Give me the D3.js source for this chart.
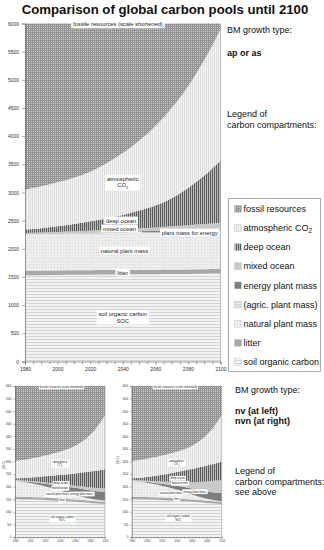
<!DOCTYPE html>
<html>
<head>
<meta charset="utf-8">
<script src="https://cdn.jsdelivr.net/npm/d3@7"></script>
<style>
  body { margin: 0; background: #fff; }
  svg { display: block; font-family: "Liberation Sans", Arial, sans-serif; }
</style>
</head>
<body>
<svg id="canvas" width="324" height="550"></svg>
<script>
// years and tick labels
const years = [1980, 1990, 2000, 2010, 2020, 2030, 2040, 2050, 2060, 2070, 2080, 2090, 2100];
const xTickLabels = [1980, 2000, 2020, 2040, 2060, 2080, 2100];
const xMinorTicks = [1980, 1985, 1990, 1995, 2000, 2005, 2010, 2015, 2020, 2025, 2030, 2035, 2040, 2045, 2050, 2055, 2060, 2065, 2070, 2075, 2080, 2085, 2090, 2095, 2100];
const yTickValues = [0, 500, 1000, 1500, 2000, 2500, 3000, 3500, 4000, 4500, 5000, 5500, 6000];

// stacking order, bottom to top
const compartments = ["soil", "litter", "natural", "agric", "energy", "mixed", "deep", "atmos", "fossil"];
// legend order, top to bottom
const legendKeys = ["fossil", "atmos", "deep", "mixed", "energy", "agric", "natural", "litter", "soil"];
const legendNames = ["fossil resources", "atmospheric CO2", "deep ocean", "mixed ocean", "energy plant mass", "(agric. plant mass)", "natural plant mass", "litter", "soil organic carbon"];

// BM growth type "ap or as" (Gt C, thickness of each stacked pool)
const apSoil    = [1530, 1533, 1535, 1538, 1540, 1543, 1545, 1548, 1550, 1553, 1555, 1558, 1560];
const apLitter  = [80, 80, 80, 80, 80, 80, 80, 80, 80, 80, 80, 80, 80];
const apNatural = [640, 644, 648, 652, 657, 660, 665, 669, 673, 677, 682, 685, 690];
const apAgric   = [0, 0, 0, 0, 0, 0, 0, 0, 0, 0, 0, 0, 0];
const apEnergy  = [0, 0, 0, 2, 4, 6, 8, 11, 14, 17, 20, 22, 25];
const apMixed   = [30, 32, 35, 38, 42, 46, 50, 56, 63, 72, 82, 95, 110];
const apDeep    = [65, 76, 102, 130, 167, 205, 252, 316, 390, 501, 661, 860, 1105];
const apAtmos   = [710, 745, 780, 820, 880, 980, 1100, 1240, 1410, 1600, 1800, 2050, 2330];
const apFossil  = [2945, 2890, 2820, 2740, 2630, 2480, 2300, 2080, 1820, 1500, 1120, 650, 100];

// BM growth type "nv"
const nvSoil    = [1500, 1495, 1490, 1480, 1470, 1455, 1440, 1420, 1400, 1380, 1355, 1335, 1310];
const nvLitter  = [100, 99, 98, 97, 96, 95, 94, 93, 92, 91, 90, 89, 90];
const nvNatural = [640, 606, 562, 513, 454, 390, 316, 247, 178, 119, 85, 56, 50];
const nvAgric   = [0, 0, 0, 0, 0, 0, 0, 0, 0, 0, 0, 0, 0];
const nvEnergy  = [0, 15, 40, 70, 100, 140, 190, 240, 290, 320, 330, 340, 350];
const nvMixed   = [30, 35, 40, 45, 50, 55, 60, 70, 80, 95, 110, 130, 150];
const nvDeep    = [60, 95, 135, 180, 240, 300, 360, 420, 480, 555, 630, 690, 740];
const nvAtmos   = [690, 715, 745, 785, 830, 875, 930, 1000, 1100, 1240, 1450, 1760, 2160];
const nvFossil  = [2980, 2940, 2890, 2830, 2760, 2690, 2610, 2510, 2380, 2200, 1950, 1600, 1150];

// BM growth type "nvn"
const nvnSoil    = [1500, 1495, 1490, 1480, 1470, 1455, 1440, 1420, 1400, 1380, 1355, 1335, 1310];
const nvnLitter  = [100, 99, 98, 97, 96, 95, 94, 93, 92, 91, 90, 89, 90];
const nvnNatural = [640, 611, 572, 528, 474, 420, 356, 287, 208, 129, 75, 36, 20];
const nvnAgric   = [0, 0, 0, 0, 0, 0, 0, 0, 0, 0, 0, 0, 0];
const nvnEnergy  = [0, 13, 30, 55, 80, 110, 150, 190, 230, 270, 290, 310, 330];
const nvnMixed   = [30, 37, 50, 65, 90, 115, 145, 190, 250, 320, 400, 465, 515];
const nvnDeep    = [60, 95, 140, 195, 260, 325, 395, 460, 520, 580, 630, 675, 725];
const nvnAtmos   = [690, 710, 730, 750, 770, 790, 810, 850, 920, 1030, 1210, 1490, 1860];
const nvnFossil  = [2980, 2940, 2890, 2830, 2760, 2690, 2610, 2510, 2380, 2200, 1950, 1600, 1150];

const svg = d3.select("#canvas");
const defs = svg.append("defs");

// fill patterns for the pools
const addPattern = (id, w, h, bg, marks) => {
    const p = defs.append("pattern")
        .attr("id", id)
        .attr("patternUnits", "userSpaceOnUse")
        .attr("width", w)
        .attr("height", h);
    p.append("rect").attr("width", w).attr("height", h).attr("fill", bg);
    marks.forEach((m) => p.append("rect")
        .attr("x", m[0]).attr("y", m[1]).attr("width", m[2]).attr("height", m[3]).attr("fill", m[4]));
};
addPattern("pat-fossil", 2, 2, "#cecece", [[0, 0, 2, 1, "#929292"], [0, 0, 1, 2, "#929292"]]);
addPattern("pat-atmos", 2, 2, "#f3f3f3", [[0, 0, 1, 2, "#dedede"]]);
addPattern("pat-deep", 2, 2, "#bdbdbd", [[0, 0, 1, 2, "#5a5a5a"]]);
addPattern("pat-mixed", 2, 2, "#c9c9c9", []);
addPattern("pat-energy", 2, 2, "#7e7e7e", []);
addPattern("pat-agric", 2, 2, "#eeeeee", [[0, 0, 2, 1, "#d0d0d0"]]);
addPattern("pat-natural", 3, 3, "#ededed", [[0, 0, 1, 1, "#d6d6d6"]]);
addPattern("pat-litter", 2, 2, "#a8a8a8", []);
addPattern("pat-soil", 3, 3, "#f3f3f3", [[0, 0, 3, 1, "#d3d3d3"]]);

// text with "CO2" getting a subscript 2
const writeLine = (textSel, line, size) => {
    if (line.endsWith("CO2")) {
        textSel.append("tspan").text(line.slice(0, -1));
        textSel.append("tspan").attr("font-size", size * 0.7).attr("dy", size * 0.25).text("2");
    } else {
        textSel.text(line);
    }
};

const drawChart = (cfg) => {
    const rows = years.map((yr, i) => {
        const r = { year: yr };
        compartments.forEach((k, j) => r[k] = cfg.layers[j][i]);
        return r;
    });

    const x = d3.scaleLinear().domain([1980, 2100]).range([cfg.left, cfg.right]);
    const y = d3.scaleLinear().domain([0, 6000]).range([cfg.bottom, cfg.top]);

    const series = d3.stack().keys(compartments)(rows);
    const area = d3.area()
        .x((d) => x(d.data.year))
        .y0((d) => y(d[0]))
        .y1((d) => y(d[1]))
        .curve(d3.curveMonotoneX);

    const g = svg.append("g");
    g.selectAll("path.layer")
        .data(series)
        .enter()
        .append("path")
        .attr("class", "layer")
        .attr("d", area)
        .attr("fill", (d) => "url(#pat-" + d.key + ")");

    // right edge of the plot
    g.append("line")
        .attr("x1", cfg.right).attr("x2", cfg.right)
        .attr("y1", cfg.top).attr("y2", cfg.bottom)
        .attr("stroke", "#9a9a9a").attr("stroke-width", 0.6);

    // leader lines
    (cfg.leaders || []).forEach((l) => {
        g.append("line")
            .attr("x1", x(l[0])).attr("y1", y(l[1]))
            .attr("x2", x(l[2])).attr("y2", y(l[3]))
            .attr("stroke", "#444").attr("stroke-width", 0.6);
    });

    // labels on white boxes, box sized from the text
    cfg.labels.forEach((lab) => {
        const cx = x(lab.year);
        const cy = y(lab.value);
        const lh = cfg.font * 1.15;
        const lg = g.append("g");
        const box = lg.append("rect").attr("fill", "#fff");
        const tg = lg.append("g");
        lab.lines.forEach((line, i) => {
            const t = tg.append("text")
                .attr("x", cx)
                .attr("y", cy + (i - (lab.lines.length - 1) / 2) * lh + cfg.font * 0.35)
                .attr("text-anchor", lab.anchor || "middle")
                .attr("font-size", cfg.font)
                .attr("fill", "#222");
            writeLine(t, line, cfg.font);
        });
        const bb = tg.node().getBBox();
        box.attr("x", bb.x - cfg.padX)
            .attr("y", bb.y - cfg.padY)
            .attr("width", bb.width + 2 * cfg.padX)
            .attr("height", bb.height + 2 * cfg.padY);
    });

    // axes
    const yAxis = d3.axisLeft(y)
        .tickValues(yTickValues)
        .tickSize(cfg.tick)
        .tickPadding(cfg.pad)
        .tickFormat(d3.format("d"));
    const gy = g.append("g").attr("transform", "translate(" + cfg.left + ",0)").call(yAxis);

    const xAxis = d3.axisBottom(x)
        .tickValues(xMinorTicks)
        .tickSize(cfg.tick)
        .tickPadding(cfg.pad)
        .tickFormat((d) => xTickLabels.includes(d) ? d : "");
    const gx = g.append("g").attr("transform", "translate(0," + cfg.bottom + ")").call(xAxis);

    [gx, gy].forEach((a) => {
        a.selectAll("path").attr("stroke", "#555").attr("stroke-width", 0.6);
        a.selectAll("line").attr("stroke", "#555").attr("stroke-width", 0.5);
        a.selectAll("text").attr("font-size", cfg.axisFont).attr("fill", "#333")
            .attr("font-family", "'Liberation Sans', Arial, sans-serif");
    });

    if (cfg.yTitle) {
        g.append("text")
            .attr("transform", "translate(" + cfg.yTitle[0] + "," + cfg.yTitle[1] + ") rotate(-90)")
            .attr("text-anchor", "middle")
            .attr("font-size", cfg.axisFont)
            .attr("fill", "#333")
            .text("[Gt C]");
    }
};

// title
svg.append("text")
    .attr("x", 165).attr("y", 14)
    .attr("text-anchor", "middle")
    .attr("font-family", "'Liberation Sans', Arial, sans-serif")
    .attr("font-weight", "bold")
    .attr("font-size", 13.2)
    .attr("fill", "#111")
    .text("Comparison of global carbon pools until 2100");

// main chart (ap or as)
drawChart({
    layers: [apSoil, apLitter, apNatural, apAgric, apEnergy, apMixed, apDeep, apAtmos, apFossil],
    left: 25, right: 220.5, top: 23.5, bottom: 361.5,
    tick: 3, pad: 3, axisFont: 5, font: 5.8, padX: 1.8, padY: 0.9,
    leaders: [[2052, 2300, 2064, 2300]],
    labels: [
        { year: 2037, value: 5985, lines: ["fossile resources (scale shortened)"] },
        { year: 2040, value: 3187, lines: ["atmospheric", "CO2"] },
        { year: 2039, value: 2503, lines: ["deep ocean"] },
        { year: 2038, value: 2361, lines: ["mixed ocean"] },
        { year: 2064, value: 2290, lines: ["plant mass for energy"], anchor: "start" },
        { year: 2041, value: 1970, lines: ["natural plant mass"] },
        { year: 2040, value: 1580, lines: ["litter"] },
        { year: 2040, value: 785, lines: ["soil organic carbon", "SOC"] }
    ]
});

// small chart nv
drawChart({
    layers: [nvSoil, nvLitter, nvNatural, nvAgric, nvEnergy, nvMixed, nvDeep, nvAtmos, nvFossil],
    left: 15, right: 105, top: 386, bottom: 537,
    tick: 1.5, pad: 2, axisFont: 2.6, font: 2.8, padX: 0.9, padY: 0.4,
    yTitle: [5, 465],
    labels: [
        { year: 2042, value: 5960, lines: ["fossile resources (scale shortened)"] },
        { year: 2040, value: 2910, lines: ["atmospheric", "CO2"] },
        { year: 2041, value: 2126, lines: ["deep ocean"] },
        { year: 2040, value: 1927, lines: ["mixed ocean"] },
        { year: 2037, value: 1689, lines: ["natural plant mass"] },
        { year: 2069, value: 1709, lines: ["energy plant mass"] },
        { year: 2043, value: 1450, lines: ["litter"] },
        { year: 2043, value: 735, lines: ["soil organic carbon", "SOC"] }
    ]
});

// small chart nvn
drawChart({
    layers: [nvnSoil, nvnLitter, nvnNatural, nvnAgric, nvnEnergy, nvnMixed, nvnDeep, nvnAtmos, nvnFossil],
    left: 131.7, right: 221.7, top: 386, bottom: 537,
    tick: 1.5, pad: 2, axisFont: 2.6, font: 2.8, padX: 0.9, padY: 0.4,
    yTitle: [119, 460],
    labels: [
        { year: 2038, value: 5960, lines: ["fossile resources (scale shortened)"] },
        { year: 2040, value: 2950, lines: ["atmospheric", "CO2"] },
        { year: 2041, value: 2331, lines: ["deep ocean"] },
        { year: 2044, value: 2133, lines: ["mixed ocean"] },
        { year: 2033, value: 1736, lines: ["natural plant mass"] },
        { year: 2064, value: 1800, lines: ["energy plant mass"] },
        { year: 2040, value: 1510, lines: ["litter"] },
        { year: 2042, value: 750, lines: ["soil organic carbon", "SOC"] }
    ]
});

// right-hand texts
const addText = (x, y, txt, size, bold) => svg.append("text")
    .attr("x", x).attr("y", y)
    .attr("font-size", size)
    .attr("font-weight", bold ? "bold" : "normal")
    .attr("fill", "#111")
    .text(txt);

addText(227, 33, "BM growth type:", 9, false);
addText(227, 56, "ap or as", 9, true);
addText(227, 117, "Legend of", 9, false);
addText(227, 127.5, "carbon compartments:", 9, false);

addText(235, 393, "BM growth type:", 9, false);
addText(235, 414, "nv (at left)", 9, true);
addText(235, 424, "nvn (at right)", 9, true);
addText(235, 474, "Legend of", 9, false);
addText(235, 484.5, "carbon compartments:", 9, false);
addText(235, 494.5, "see above", 9, false);

// legend
const legend = svg.append("g");
legend.append("rect")
    .attr("x", 228.5).attr("y", 198.5)
    .attr("width", 92).attr("height", 173)
    .attr("fill", "#fff").attr("stroke", "#999").attr("stroke-width", 0.8);

const legendRowY = d3.scaleLinear().domain([0, legendKeys.length - 1]).range([208.8, 362]);
legend.selectAll("rect.legend-item")
    .data(legendKeys)
    .enter()
    .append("rect")
    .attr("class", "legend-item")
    .attr("x", 234.5)
    .attr("y", (d, i) => legendRowY(i) - 3.5)
    .attr("width", 7)
    .attr("height", 7)
    .attr("fill", (d) => "url(#pat-" + d + ")")
    .attr("stroke", "#c8c8c8")
    .attr("stroke-width", 0.5);

legendNames.forEach((name, i) => {
    const t = legend.append("text")
        .attr("x", 243.5)
        .attr("y", legendRowY(i) + 3.2)
        .attr("font-size", 9)
        .attr("fill", "#111");
    writeLine(t, name, 9);
});
</script>
</body>
</html>
